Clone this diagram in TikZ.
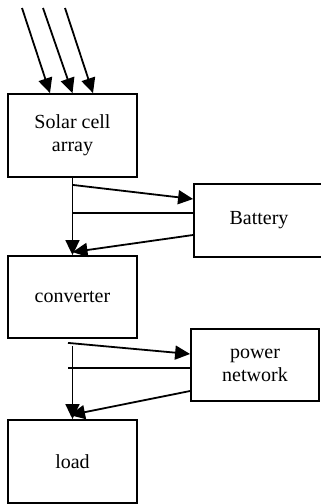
\documentclass[tikz,border=0pt]{standalone}
\usepackage{fontspec}
\setmainfont{Liberation Serif}
\usetikzlibrary{arrows.meta}

\begin{document}
\begin{tikzpicture}[
    x=0.5pt, y=-0.5pt,
    block/.style={
        draw,
        line width=0.9pt,
        minimum width=64.5pt,
        minimum height=41.5pt,
        align=center,
        inner sep=0pt,
        font=\fontsize{10}{11.5}\selectfont
    },
    flow/.style={line width=0.9pt},
    feed/.style={flow, -{Triangle[length=7.5pt,width=7pt]}}
]
\useasboundingbox (0,0) rectangle (321,504);

% Blocks
\node[block] (solar) at (72.5,135.5) {Solar cell\\array};
\node[block, minimum width=65pt, minimum height=36.5pt] (battery) at (259,220.5) {Battery};
\node[block, minimum height=41pt] (conv) at (72.5,297) {converter};
\node[block, minimum width=64pt, minimum height=36pt] (net) at (255,365) {power\\network};
\node[block] (load) at (72.5,461.5) {load};

% Incoming sunlight
\coordinate (ray1) at (22,8);
\coordinate (ray2) at (43,8);
\coordinate (ray3) at (65,8);
\draw[feed] (ray1) -- ([xshift=-11.25pt]solar.north);
\draw[feed] (ray2) -- (solar.north);
\draw[feed] (ray3) -- ([xshift=10.25pt]solar.north);

% Solar array to battery and converter
\draw[feed] (solar.south) -- (conv.north);
\draw[feed] ([yshift=-3.5pt]solar.south) -- ([yshift=10.75pt]battery.west);
\coordinate (btap) at ([yshift=3.75pt]battery.west);
\draw[flow] (btap) -- (solar.south |- btap);
\draw[feed] ([yshift=-7.25pt]battery.west) -- ([yshift=1.5pt]conv.north);

% Converter to power network and load
\draw[feed] ([yshift=-3.5pt]conv.south) -- (load.north);
\draw[feed] ([xshift=-2.25pt,yshift=-2pt]conv.south) -- ([yshift=5.5pt]net.west);
\coordinate (ntap) at ([yshift=-1.5pt]net.west);
\draw[flow] (ntap) -- ([xshift=-2.25pt]conv.south |- ntap);
\draw[feed] ([yshift=-13pt]net.west) -- ([xshift=-1.25pt,yshift=2pt]load.north);

\end{tikzpicture}
\end{document}
